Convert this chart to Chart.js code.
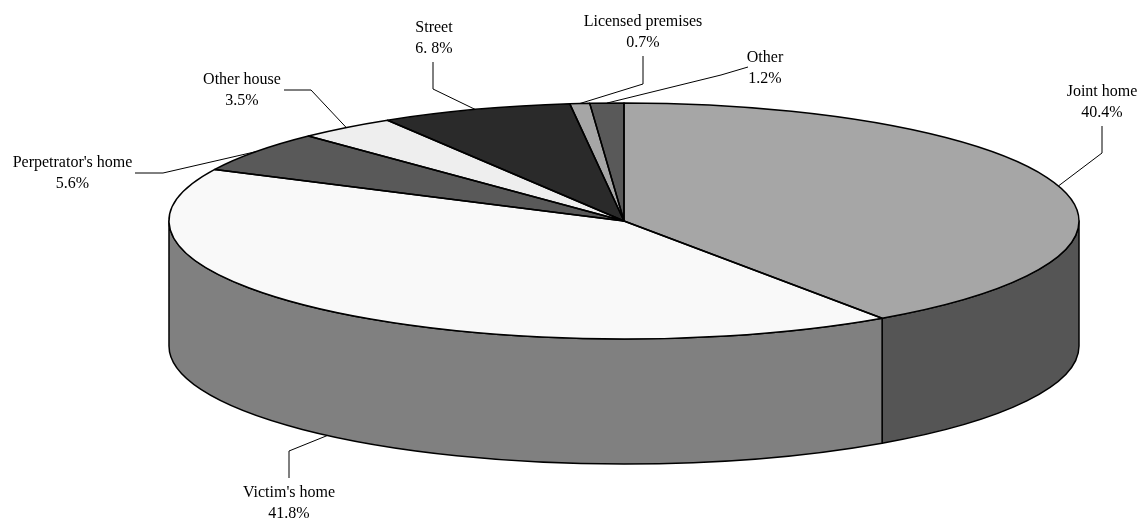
<!DOCTYPE html>
<html>
<head>
<meta charset="utf-8">
<title>Location of incidents</title>
<style>
    html, body { margin: 0; padding: 0; background: #fff; }
    canvas { display: block; }
</style>
<script src="https://cdn.jsdelivr.net/npm/chart.js@4"></script>
</head>
<body>
<canvas id="pie3d" width="1140" height="519"></canvas>
<script>
// Chart data
const categories = ['Joint home', "Victim's home", "Perpetrator's home", 'Other house', 'Street', 'Licensed premises', 'Other'];
const shares = [40.4, 41.8, 5.6, 3.5, 6.8, 0.7, 1.2];
const shareLabels = ['40.4%', '41.8%', '5.6%', '3.5%', '6. 8%', '0.7%', '1.2%'];

// Colours
const topColors = ['#a6a6a6', '#f9f9f9', '#595959', '#eeeeee', '#2a2a2a', '#a6a6a6', '#595959'];
const sideColors = ['#555555', '#808080', '#404040', '#b0b0b0', '#1c1c1c', '#707070', '#404040'];

// Geometry of the tilted pie
const centerX = 624, centerY = 221, radiusX = 455, radiusY = 118, depth = 125;

// Where each label and its elbow goes: text centre x, first line y, elbow x, elbow y, line end x, line end y
const labelSpots = [
    { x: 1102, y: 92, ex: 1102, ey: 153, sx: 1102, sy: 126 },
    { x: 289, y: 493, ex: 289, ey: 451, sx: 289, sy: 478 },
    { x: 72.5, y: 163, ex: 163, ey: 173, sx: 135, sy: 173 },
    { x: 242, y: 80, ex: 311, ey: 90, sx: 284, sy: 90 },
    { x: 434, y: 28, ex: 433, ey: 89, sx: 433, sy: 62 },
    { x: 643, y: 22, ex: 643, ey: 84, sx: 643, sy: 56 },
    { x: 765, y: 58, ex: 721, ey: 75, sx: 748, sy: 67 }
];

function outline(ctx) {
    ctx.strokeStyle = '#000';
    ctx.lineWidth = 1.5;
    ctx.lineJoin = 'round';
    ctx.stroke();
}

// Squash the round pie of Chart.js into the ellipse, and put the wall under it
const tiltPlugin = {
    id: 'tilt',
    beforeDatasetsDraw(chart) {
        const ctx = chart.ctx;
        const arcs = chart.getDatasetMeta(0).data;

        // only the front half of the pie shows a wall
        arcs.forEach((arc, i) => {
            const from = Math.max(arc.startAngle, 0);
            const to = Math.min(arc.endAngle, Math.PI);
            if (to <= from) return;
            ctx.beginPath();
            ctx.ellipse(centerX, centerY, radiusX, radiusY, 0, from, to);
            ctx.ellipse(centerX, centerY + depth, radiusX, radiusY, 0, to, from, true);
            ctx.closePath();
            ctx.fillStyle = sideColors[i];
            ctx.fill();
            outline(ctx);
        });

        ctx.save();
        const first = arcs[0];
        ctx.translate(centerX, centerY);
        ctx.scale(radiusX / first.outerRadius, radiusY / first.outerRadius);
        ctx.translate(-first.x, -first.y);
    },
    afterDatasetsDraw(chart) {
        const ctx = chart.ctx;
        ctx.restore();

        // slice edges, stroked after the transform so the pen stays round
        const arcs = chart.getDatasetMeta(0).data;
        arcs.forEach(arc => {
            ctx.beginPath();
            ctx.moveTo(centerX, centerY);
            ctx.ellipse(centerX, centerY, radiusX, radiusY, 0, arc.startAngle, arc.endAngle);
            ctx.closePath();
            outline(ctx);
        });

        // leader lines and labels
        ctx.font = '16px "Liberation Serif"';
        ctx.textAlign = 'center';
        ctx.textBaseline = 'middle';
        ctx.fillStyle = '#000';
        arcs.forEach((arc, i) => {
            const spot = labelSpots[i];
            const mid = (arc.startAngle + arc.endAngle) / 2;
            const tipX = centerX + radiusX * Math.cos(mid);
            let tipY = centerY + radiusY * Math.sin(mid);
            // the leader of a slice with a wall under it stops at the wall's bottom edge
            if (spot.y > centerY + depth) tipY += depth;

            ctx.beginPath();
            ctx.moveTo(spot.sx, spot.sy);
            ctx.lineTo(spot.ex, spot.ey);
            ctx.lineTo(tipX, tipY);
            ctx.strokeStyle = '#000';
            ctx.lineWidth = 1;
            ctx.stroke();

            ctx.fillText(categories[i], spot.x, spot.y);
            ctx.fillText(shareLabels[i], spot.x, spot.y + 20.5);
        });
    }
};

new Chart(document.getElementById('pie3d'), {
    type: 'pie',
    data: {
        labels: categories,
        datasets: [{
            data: shares,
            backgroundColor: topColors,
            borderWidth: 0
        }]
    },
    options: {
        responsive: false,
        animation: false,
        plugins: {
            legend: { display: false },
            tooltip: { enabled: false }
        }
    },
    plugins: [tiltPlugin]
});
</script>
</body>
</html>
